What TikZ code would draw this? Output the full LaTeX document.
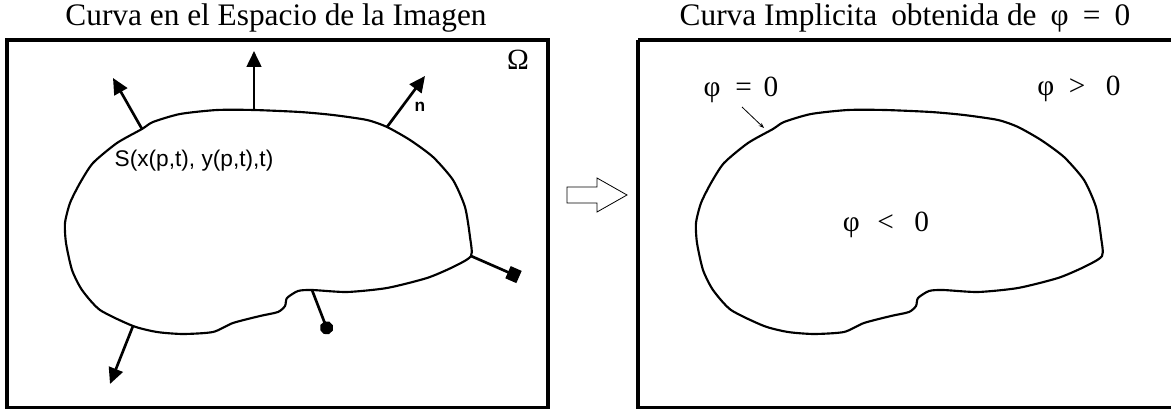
\documentclass[tikz,border=0pt]{standalone}
\usepackage{fontspec}
\setmainfont{Liberation Serif}
\newfontfamily\arial{Liberation Sans}
\usetikzlibrary{arrows.meta}
\tikzset{tit/.style={font=\fontsize{23.5}{27}\selectfont,inner sep=0pt},
 lbl/.style={font=\fontsize{22}{26}\selectfont,inner sep=0pt},
 marco/.style={line width=2.4pt},
 curva/.style={line width=1.6pt,line join=round},
 nv/.style={line width=2pt,-{Triangle[length=12pt,width=11pt]}},
 nvq/.style={line width=2pt,-{Square[length=9pt,width=10pt]}},
 nvc/.style={line width=2pt,-{Circle[length=10pt,width=10pt]}},
 pt/.style={line width=0.6pt,-{Stealth[length=4pt,width=3pt]}}}
\def\contorno{plot[smooth cycle,tension=0.4] coordinates {(254,110) (217,110) (180,114) (153,122) (142,129) (117,143) (93,163) (80,183) (70,203) (65,223) (66,243) (72,270) (82,290) (100,310) (133,326) (157,332) (183,334) (213,332) (233,323) (260,316) (278,312) (285,306) (287,298) (298,291) (312,290) (347,292) (387,288) (427,278) (453,267) (471,256) (470,237) (465,207) (453,180) (433,157) (410,140) (387,127) (367,120) (333,115) (300,112)}}
\begin{document}
\begin{tikzpicture}[x=0.75pt,y=-0.75pt]
\useasboundingbox (0,0) rectangle (1171,409);
% panel izquierdo
\node[tit] (t1) at (276,18) {Curva en el Espacio de la Imagen};
\draw[marco] (7,40) rectangle (548,408);
\node[lbl] (om) at (518,60) {Ω};
\draw[curva] \contorno;
\coordinate (b1) at (254,110); \coordinate (e1) at (254,51);
\coordinate (b2) at (142,129); \coordinate (e2) at (113,78);
\coordinate (b3) at (387,127); \coordinate (e3) at (425,76);
\coordinate (b4) at (471,256); \coordinate (e4) at (519,277);
\coordinate (b5) at (312,290); \coordinate (e5) at (329,334);
\coordinate (b6) at (133,326); \coordinate (e6) at (110,384);
\draw[nv](b1)--(e1);\draw[nv](b2)--(e2);\draw[nv](b3)--(e3);
\draw[nvq](b4)--(e4);\draw[nvc](b5)--(e5);\draw[nv](b6)--(e6);
\node[font=\arial\bfseries\fontsize{13}{15}\selectfont,inner sep=0pt] (n) at (420,107) {n};
\node[font=\arial\fontsize{17}{20}\selectfont,inner sep=0pt] (s) at (194,161) {S(x(p,t), y(p,t),t)};
% flecha hueca
\draw[line width=0.6pt] (567,187) -- (597,187) -- (597,178) -- (627,195) -- (597,212) -- (597,203) -- (567,203) -- cycle;
% panel derecho
\node[tit] (t2) at (905,18) {Curva Implicita\hspace{0.45em}obtenida de\hspace{0.45em}φ\hspace{0.45em}=\hspace{0.45em}0};
\draw[marco] (638,40) -- (1180,40) (638,40) -- (638,408) -- (1180,408);
\begin{scope}[xshift=473.25pt]
\draw[curva] \contorno;
\end{scope}
\node[lbl] (f0) at (741,90) {φ\hspace{0.5em}=\hspace{0.4em}0};
\node[lbl] (fp) at (1079,89) {φ\hspace{0.5em}>\hspace{0.7em}0};
\node[lbl] (fn) at (886,225) {φ\hspace{0.6em}<\hspace{0.7em}0};
\coordinate (p0) at (742,107); \coordinate (p1) at (764,128);
\draw[pt](p0)--(p1);
\end{tikzpicture}
\end{document}
